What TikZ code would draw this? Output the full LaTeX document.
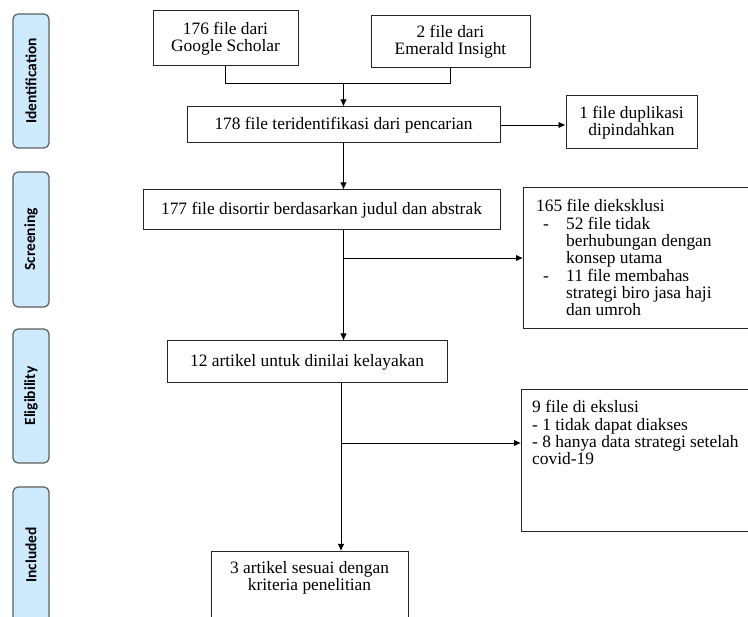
\documentclass[tikz,border=0pt]{standalone}
\usepackage{fontspec}
\setmainfont{Liberation Serif}
\newfontfamily\stagefont{Carlito}
\usetikzlibrary{positioning,arrows.meta}
\definecolor{stageblue}{RGB}{206,234,253}
\definecolor{stageline}{RGB}{95,95,95}
\newcommand{\dashrow}{\makebox[30pt][l]{\hspace{7pt}-}}
\newcommand{\padrow}{\hspace*{30pt}}
\tikzset{
  stage/.style={draw=stageline,fill=stageblue,line width=1.2pt,rounded corners=5pt,minimum width=36pt,inner sep=0pt},
  stagetext/.style={font=\stagefont\bfseries\fontsize{15.5}{17}\selectfont,rotate=90},
  box/.style={draw=black!85,line width=1pt,align=center,inner sep=0pt,font=\fontsize{17.4}{17.2}\selectfont},
  boxtext/.style={anchor=north west,inner sep=0pt,align=left,font=\fontsize{17.4}{17.3}\selectfont},
  myarrow/.style={-{Latex[length=7pt,width=6.5pt]},line width=0.9pt},
  myline/.style={line width=0.9pt},
}

\begin{document}
\begin{tikzpicture}[x=1pt,y=-1pt]
  \useasboundingbox (0,0) rectangle (748,617);
  \clip (0,0) rectangle (748,617);
  % stages on the left
  \node[stage,minimum height=134pt] (sid) at (31,81) {};
  \node[stagetext] at (sid) {Identification};
  \node[stage,minimum height=135pt] (ssc) at (31,239.5) {};
  \node[stagetext] at (ssc) {Screening};
  \node[stage,minimum height=134pt] (sel) at (31,396) {};
  \node[stagetext] at (sel) {Eligibility};
  \node[stage,minimum height=136pt] (sin) at (31,555) {};
  \node[stagetext] at (sin) {Included};
  % main flow
  \node[box,minimum width=145pt,minimum height=55pt] (gs) at (225.5,38.5) {176 file dari\\Google Scholar};
  \node[box,minimum width=159pt,minimum height=52pt] (em) at (450.5,42) {2 file dari\\Emerald Insight};
  \node[box,minimum width=313pt,minimum height=36pt] (id) at (343.5,125) {178 file teridentifikasi dari pencarian};
  \node[box,minimum width=131pt,minimum height=53pt] (dup) at (631.5,122.5) {1 file duplikasi\\dipindahkan};
  \node[box,minimum width=357pt,minimum height=40pt] (sc) at (321.5,210) {177 file disortir berdasarkan judul dan abstrak};
  \node[box,minimum width=280pt,minimum height=42pt] (el) at (307,362) {12 artikel untuk dinilai kelayakan};
  \node[box,minimum width=197pt,minimum height=90pt,anchor=north] (inc) at (309.5,551) {};
  \node[boxtext,anchor=north,align=center] (inctext) at ([yshift=-10pt]inc.north) {3 artikel sesuai dengan\\kriteria penelitian};
  % exclusion boxes
  \node[box,minimum width=240pt,minimum height=141pt,anchor=north west] (ex1) at (523,187) {};
  \node[boxtext] (ex1text) at ([xshift=13pt,yshift=-12.5pt]ex1.north west) {165 file dieksklusi\\
    \dashrow 52 file tidak\\
    \padrow berhubungan dengan\\
    \padrow konsep utama\\
    \dashrow 11 file membahas\\
    \padrow strategi biro jasa haji\\
    \padrow dan umroh};
  \node[box,minimum width=240pt,minimum height=142pt,anchor=north west] (ex2) at (521,389) {};
  \node[boxtext] (ex2text) at ([xshift=11pt,yshift=-11.5pt]ex2.north west) {9 file di ekslusi\\
    - 1 tidak dapat diakses\\
    - 8 hanya data strategi setelah\\
    covid-19};
  % connectors
  \coordinate (merge) at (343.5,83);
  \draw[myline] (gs.south) -- (gs.south |- merge) -- (em.south |- merge) -- (em.south);
  \draw[myarrow] (merge) -- (id.north);
  \draw[myarrow] (id.east) -- (id.east -| dup.west);
  \draw[myarrow] (id.south) -- (id.south |- sc.north);
  \draw[myarrow] (id.south |- sc.south) -- (id.south |- el.north);
  \draw[myarrow] (id.south |- ex1.west) -- (ex1.west);
  \coordinate (spine) at (341,443);
  \draw[myarrow] (spine |- el.south) -- (spine |- inc.north);
  \draw[myarrow] (spine) -- (spine -| ex2.west);
\end{tikzpicture}
\end{document}
